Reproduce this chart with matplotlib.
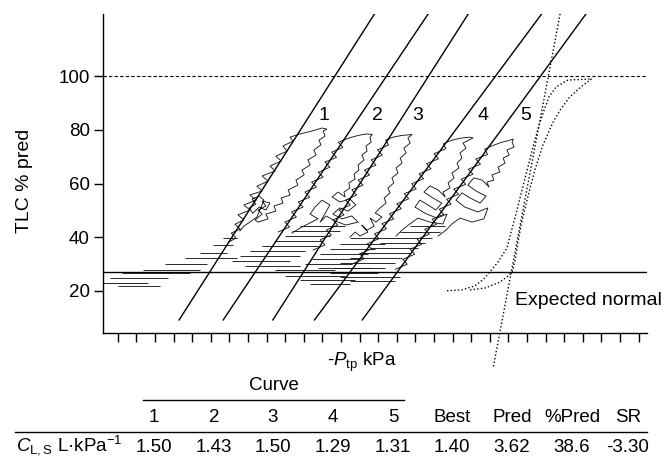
import matplotlib
matplotlib.use("Agg")
import matplotlib.pyplot as plt
import numpy as np

plt.rcParams["font.family"] = ["Liberation Sans", "DejaVu Sans"]
plt.rcParams["mathtext.fontset"] = "custom"
plt.rcParams["mathtext.rm"] = "Liberation Sans"
plt.rcParams["mathtext.it"] = "Liberation Sans:italic"

# table values
curve_ids = ["1", "2", "3", "4", "5"]
compliance = [1.50, 1.43, 1.50, 1.29, 1.31]   # L/kPa
best_c = 1.40
pred_c = 3.62
pct_pred = 38.6
sr = -3.30

tlc_pred = 6.9                                   # L, predicted TLC
p_at_tlc = [6.33, 7.72, 8.85, 10.65, 11.86]      # -Ptp (kPa) where each fit reaches 100 %
fit_v = [9.1, 123.3]                             # volume span of the fitted lines

# predicted (expected normal) curves
pred_line_p = [12.39, 10.59]
pred_line_v = [123.3, -8.8]
norm_lo_p = [9.35, 9.75, 10.10, 10.34, 10.50, 10.72, 10.96, 11.23, 11.47, 11.71, 11.85, 11.96, 12.09, 12.28, 12.60, 13.19]
norm_lo_v = [20.0, 20.3, 21.8, 24.4, 27.0, 30.7, 35.9, 50.1, 63.2, 76.2, 82.9, 87.4, 92.3, 96.0, 98.6, 99.0]
norm_hi_p = [9.97, 10.37, 10.77, 10.99, 11.10, 11.18, 11.23, 11.34, 11.50, 11.71, 11.93, 12.20, 12.39, 12.65, 12.98, 13.27]
norm_hi_v = [20.3, 21.0, 23.2, 25.5, 27.0, 31.5, 35.9, 44.5, 53.8, 65.0, 74.4, 82.9, 87.4, 92.3, 96.4, 99.4]
rv_line = 27.0

# pressure-volume traces, one per curve: deflation limb, top, inflation limb, tidal loops
g1_p = [3.49, 3.68, 3.55, 3.79, 3.65, 3.89, 3.73, 4.05, 3.89, 4.22, 4.05, 4.38, 4.24, 4.54, 4.38, 4.73, 4.59, 4.89,
        4.75, 5.05, 4.94, 5.21, 5.13, 5.40, 5.72, 5.99, 6.12,
        6.02, 6.07, 5.91, 5.96, 5.77, 5.83, 5.61, 5.67, 5.45, 5.51, 5.29, 5.34, 5.08, 5.13, 4.89, 4.94, 4.70, 4.75,
        4.48, 4.54, 4.27,
        4.19, 4.38, 4.27, 4.48, 4.38, 4.59, 4.48, 4.30, 4.13, 4.03, 4.21, 4.11, 4.30, 4.43, 4.24, 4.05, 3.89, 3.78]
g1_v = [38.2, 39.7, 41.5, 43.0, 44.8, 46.4, 48.3, 50.1, 52.0, 53.8, 55.7, 57.2, 59.0, 60.9, 62.8, 64.7, 66.5, 68.4,
        70.2, 72.1, 74.0, 75.8, 77.3, 78.5, 79.6, 80.7, 80.3,
        79.6, 77.7, 76.2, 74.4, 72.5, 70.6, 68.8, 66.9, 65.0, 63.2, 61.3, 59.4, 57.6, 55.7, 54.6, 52.7, 51.6, 49.7,
        48.6, 46.8, 45.6,
        46.4, 48.6, 50.1, 51.6, 53.5, 52.7, 50.1, 51.2, 48.9, 50.9, 52.3, 54.2, 55.3, 53.8, 47.5, 45.6, 44.1, 42.3]

g2_p = [4.81, 5.12, 4.99, 5.30, 5.17, 5.48, 5.35, 5.66, 5.53, 5.84, 5.71, 6.02, 5.89, 6.20, 6.07, 6.38, 6.25, 6.55,
        6.43, 6.72, 6.98, 7.18, 7.34,
        7.28, 7.31, 7.17, 7.20, 7.06, 7.12, 6.96, 6.98, 6.85, 6.88, 6.71, 6.74, 6.58, 6.61,
        6.42, 6.26, 6.47, 6.74, 6.90, 6.69, 6.47, 6.28, 6.53, 6.79, 6.96, 6.63, 6.34, 6.10, 5.94, 6.20, 5.99, 5.80,
        5.67, 5.88, 5.61, 5.40, 5.18]
g2_v = [41.9, 43.8, 45.6, 47.5, 49.4, 51.2, 53.1, 54.9, 56.8, 58.7, 60.5, 62.4, 64.2, 66.1, 68.0, 69.8, 71.7, 73.5,
        75.4, 77.0, 78.0, 78.5, 78.3,
        77.3, 75.4, 74.0, 72.1, 70.6, 68.8, 66.9, 65.0, 63.5, 61.7, 60.2, 58.3, 56.8, 55.0,
        56.8, 55.0, 53.1, 54.2, 52.0, 49.7, 50.9, 48.6, 46.8, 47.9, 45.6, 44.5, 46.0, 47.9, 45.6, 52.0, 53.8, 51.2,
        48.6, 46.8, 44.9, 43.4, 41.5]

g3_p = [5.75, 6.07, 5.94, 6.24, 6.11, 6.41, 6.28, 6.58, 6.45, 6.75, 6.62, 6.92, 6.79, 7.09, 6.96, 7.27, 7.13, 7.44,
        7.31, 7.61, 7.48, 7.78, 7.70, 7.90, 8.12, 8.41,
        8.30, 8.36, 8.19, 8.25, 8.09, 8.14, 7.98, 8.03, 7.87, 7.92, 7.76, 7.82, 7.66, 7.71, 7.55,
        7.42, 7.60, 7.44, 7.28, 7.39, 7.20, 7.06, 7.22, 7.01, 6.88, 6.74]
g3_v = [35.2, 37.1, 39.0, 40.8, 42.7, 44.5, 46.4, 48.3, 50.1, 52.0, 53.8, 55.7, 57.6, 59.4, 61.3, 63.2, 65.0, 66.9,
        68.8, 70.6, 72.5, 74.4, 76.2, 77.3, 77.9, 78.3,
        77.0, 75.1, 73.2, 71.4, 69.5, 67.6, 65.8, 63.9, 62.1, 60.2, 58.3, 56.5, 54.6, 52.7, 50.9,
        49.0, 47.5, 45.6, 47.1, 44.1, 42.6, 44.5, 41.9, 40.4, 41.9, 40.0]

g4_p = [6.80, 7.12, 7.00, 7.32, 7.20, 7.52, 7.40, 7.72, 7.60, 7.92, 7.80, 8.12, 8.00, 8.32, 8.20, 8.52, 8.40, 8.72,
        8.60, 8.92, 8.80, 9.12, 9.00, 9.32, 9.25, 9.45, 9.70, 9.97, 10.05,
        9.78, 9.86, 9.70, 9.75, 9.62, 9.67, 9.48, 9.54, 9.38, 9.43, 9.24, 9.30,
        9.11, 8.89, 8.73, 8.97, 9.21, 9.05, 8.84, 8.62, 8.49, 8.76, 9.08, 9.35, 9.24, 8.89, 8.57, 8.35, 8.14, 7.98]
g4_v = [30.0, 31.9, 33.8, 35.6, 37.5, 39.4, 41.2, 43.1, 45.0, 46.8, 48.7, 50.6, 52.4, 54.3, 56.2, 58.0, 59.9, 61.8,
        63.6, 65.5, 67.4, 69.2, 71.1, 73.0, 74.8, 76.0, 76.9, 77.3, 77.0,
        75.1, 73.2, 71.4, 69.5, 67.6, 65.8, 63.9, 62.1, 60.2, 58.3, 56.8, 55.0,
        57.6, 59.1, 56.8, 54.6, 52.7, 50.1, 52.0, 53.8, 51.2, 48.9, 47.1, 48.6, 44.9, 45.6, 47.1, 44.9, 42.6, 40.4]

g5_p = [7.96, 8.28, 8.16, 8.48, 8.36, 8.67, 8.55, 8.87, 8.75, 9.07, 8.95, 9.26, 9.14, 9.46, 9.34, 9.66, 9.53, 9.85,
        9.73, 10.05, 9.92, 10.25, 10.12, 10.44, 10.36, 10.55, 10.80, 11.05, 11.13,
        11.10, 11.15, 10.96, 11.02, 10.86, 10.91, 10.72, 10.77, 10.56, 10.61, 10.42, 10.48,
        10.29, 10.07, 9.91, 10.13, 10.40, 10.24, 9.97, 9.75, 9.59, 9.83, 10.18, 10.45, 10.34, 10.02, 9.70, 9.48,
        9.32, 9.11]
g5_v = [28.0, 29.9, 31.7, 33.6, 35.5, 37.3, 39.2, 41.1, 42.9, 44.8, 46.7, 48.5, 50.4, 52.3, 54.1, 56.0, 57.9, 59.7,
        61.6, 63.5, 65.3, 67.2, 69.1, 70.9, 72.8, 74.0, 75.3, 76.2, 76.6,
        75.4, 73.6, 72.5, 70.6, 69.5, 67.6, 66.1, 64.3, 63.2, 61.3, 60.5, 58.7,
        61.3, 62.1, 59.4, 57.2, 55.3, 52.7, 54.6, 56.5, 53.8, 51.2, 49.4, 50.9, 46.8, 45.6, 47.1, 44.9,
        42.6, 40.4]

# low-volume pressure swings: volume, lowest and highest -Ptp
bar_v = [39.6, 37.1, 34.1, 32.2, 30.0, 27.7, 26.6, 24.7, 22.9, 21.8,
         44.1, 42.3, 40.4, 38.5, 36.7, 34.8, 32.9, 31.1, 29.2, 27.7, 25.5, 24.0, 22.5,
         39.7, 37.4, 35.6, 33.7, 31.8, 29.9, 28.5,
         44.1, 41.8, 39.7, 37.8, 35.9, 34.1, 32.2, 30.3, 28.5, 26.6, 25.1, 23.6]
bar_lo = [3.33, 3.06, 2.71, 2.31, 1.77, 1.18, 0.61, 0.29, 0.08, 0.51,
          5.40, 5.18, 5.00, 4.73, 4.38, 4.05, 3.78, 3.57, 3.92, 4.73, 5.00, 5.40, 5.67,
          6.74, 6.47, 6.20, 5.94, 5.72, 5.53, 5.88,
          8.35, 8.09, 7.82, 7.55, 7.28, 7.01, 6.74, 6.47, 6.34, 6.20, 6.47, 6.74]
bar_hi = [3.70, 3.60, 3.44, 3.70, 2.90, 2.71, 2.44, 1.85, 1.31, 1.63,
          6.61, 6.47, 6.20, 5.99, 5.88, 5.53, 5.40, 5.13, 5.40, 6.34, 6.61, 6.88, 6.74,
          7.87, 7.68, 7.42, 7.23, 7.01, 6.79, 7.33,
          9.30, 9.16, 8.95, 8.76, 8.57, 8.35, 8.14, 7.95, 7.68, 7.49, 8.09, 7.95]

label_p = [6.04, 7.47, 8.57, 10.32, 11.47]
label_v = 85.2

fig = plt.figure(figsize=(6.7, 4.58), dpi=100)
ax = fig.add_axes([103 / 670, 1 - 333 / 458, 544 / 670, 319 / 458])
ax.set_xlim(0.102, 14.726)
ax.set_ylim(4.22, 123.25)

for side in ["top", "right"]:
    ax.spines[side].set_visible(False)
for side in ["left", "bottom"]:
    ax.spines[side].set_linewidth(1.0)

ax.set_xticks(np.arange(0.5, 14.6, 0.5))
ax.set_xticklabels([])
ax.set_yticks([20, 40, 60, 80, 100])
ax.tick_params(axis="x", direction="out", length=6.5, width=1.0)
ax.tick_params(axis="y", direction="out", length=6.5, width=1.0, labelsize=13.5, pad=3)
ax.set_ylabel("TLC % pred", fontsize=14)
ax.yaxis.set_label_coords(-0.129, 0.476)

# reference levels
ax.axhline(100, color="black", lw=0.8, ls=(0, (3, 2)))
ax.axhline(rv_line, color="black", lw=1.0)

# measured traces
line_kw = dict(color="#1a1a1a", lw=0.65)
for p, v in [(g1_p, g1_v), (g2_p, g2_v), (g3_p, g3_v), (g4_p, g4_v), (g5_p, g5_v)]:
    ax.plot(p, v, **line_kw)
ax.hlines(bar_v, bar_lo, bar_hi, color="#1a1a1a", lw=0.65)

# fitted compliance lines
for p100, c in zip(p_at_tlc, compliance):
    v = np.array(fit_v)
    p = p100 - (100 - v) * tlc_pred / 100 / c
    ax.plot(p, v, color="black", lw=1.0)

for lab, px in zip(curve_ids, label_p):
    ax.text(px, label_v, lab, fontsize=14, ha="center", va="center")

# expected normal
ax.plot(pred_line_p, pred_line_v, color="black", lw=1.0, ls=(0, (1, 1.6)), clip_on=False)
ax.plot(norm_lo_p, norm_lo_v, color="black", lw=1.0, ls=(0, (1, 1.6)))
ax.plot(norm_hi_p, norm_hi_v, color="black", lw=1.0, ls=(0, (1, 1.6)))
ax.text(11.18, 16.5, "Expected normal", fontsize=14, ha="left", va="center")

fig.text(362 / 670, 1 - 362 / 458, r"-$\mathit{P}_{\mathrm{tp}}$ kPa", fontsize=13.5, ha="center", va="center")

# summary table
fs = 13.5
col_x = [154, 214, 273, 333, 393, 452, 512, 572, 628]
headers = curve_ids + ["Best", "Pred", "%Pred", "SR"]
values = ["%.2f" % c for c in compliance] + ["%.2f" % best_c, "%.2f" % pred_c, "%.1f" % pct_pred, "%.2f" % sr]
fig.text(274 / 670, 1 - 385 / 458, "Curve", fontsize=fs, ha="center", va="center")
fig.add_artist(plt.Line2D([143 / 670, 404 / 670], [1 - 400 / 458, 1 - 400 / 458], color="black", lw=1.0))
fig.add_artist(plt.Line2D([15 / 670, 647 / 670], [1 - 432 / 458, 1 - 432 / 458], color="black", lw=1.0))
for x, h, val in zip(col_x, headers, values):
    fig.text(x / 670, 1 - 418 / 458, h, fontsize=fs, ha="center", va="center")
    fig.text(x / 670, 1 - 447 / 458, val, fontsize=fs, ha="center", va="center")
fig.text(16 / 670, 1 - 445 / 458, r"$\mathit{C}_{\mathrm{L,S}}$ L·kPa$^{-1}$", fontsize=fs, ha="left", va="center")

fig.savefig("out.png", dpi=100)
